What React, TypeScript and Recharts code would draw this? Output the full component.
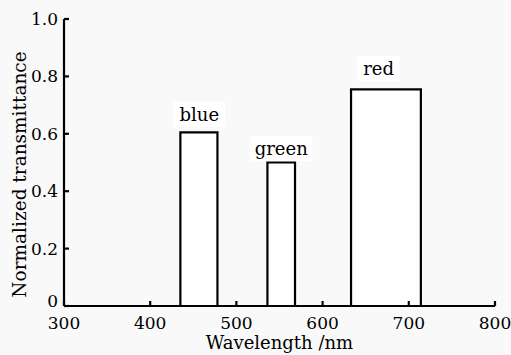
import { ComposedChart, XAxis, YAxis, ReferenceArea, Scatter } from "recharts";

// transmission bands of the filters (nm)
const bandNames = ["blue", "green", "red"];
const bandStart = [435, 536, 633];
const bandEnd = [478, 568, 714];
const bandValue = [0.605, 0.5, 0.755];

// where the band names sit (wavelength, text baseline in transmittance units)
const labelX = [457, 552, 665];
const labelY = [0.645, 0.526, 0.805];

const xTicks = [300, 400, 500, 600, 700, 800];
const yTicks = [0, 0.2, 0.4, 0.6, 0.8, 1.0];

const FONT = "'DejaVu Serif', serif";

const labelData = bandNames.map((name, i) => ({ x: labelX[i], y: labelY[i], name }));

function BandLabel(props: any) {
  const { cx, cy, payload } = props;
  const w = payload.name.length * 10 + 12;
  return (
    <g>
      <rect x={cx - w / 2} y={cy - 19} width={w} height={25} fill="#ffffff" />
      <text x={cx} y={cy} textAnchor="middle" fontSize={18} fontFamily={FONT} fill="#000">
        {payload.name}
      </text>
    </g>
  );
}

// y tick text; the "0" is lifted a little so it sits above the "300"
function YTick(props: any) {
  const { x, y, payload } = props;
  const v = payload.value;
  const lift = v === 0 ? 5 : 0;
  return (
    <text x={x} y={y - lift} textAnchor="end" dominantBaseline="central" fontSize={17} fontFamily={FONT} fill="#000">
      {v === 0 ? "0" : v.toFixed(1)}
    </text>
  );
}

export default function App() {
  return (
    <div style={{ position: "absolute", left: 0, top: 0, width: 511, height: 355, background: "#f9f9f9", fontFamily: FONT }}>
      <ComposedChart width={511} height={355} data={labelData} margin={{ top: 19, right: 16, bottom: 0, left: 0 }}>
        <XAxis
          dataKey="x"
          type="number"
          domain={[300, 800]}
          ticks={xTicks}
          allowDataOverflow
          height={49}
          tickSize={-5}
          tickMargin={16}
          axisLine={{ stroke: "#000", strokeWidth: 2.2 }}
          tickLine={{ stroke: "#000", strokeWidth: 2.2 }}
          tick={{ fontSize: 17, fill: "#000", fontFamily: FONT }}
          label={{
            content: (p: any) => {
              const vb = p.viewBox;
              return (
                <text x={vb.x + vb.width / 2} y={vb.y + 43} textAnchor="middle" fontSize={18} fontFamily={FONT} fill="#000">
                  Wavelength /nm
                </text>
              );
            },
          }}
        />
        <YAxis
          dataKey="y"
          type="number"
          domain={[0, 1]}
          ticks={yTicks}
          allowDataOverflow
          width={64}
          tickSize={-5}
          tickMargin={11}
          axisLine={{ stroke: "#000", strokeWidth: 2.2 }}
          tickLine={{ stroke: "#000", strokeWidth: 2.2 }}
          tick={<YTick />}
          label={{
            content: (p: any) => {
              const vb = p.viewBox;
              const x = vb.x + 19;
              const y = vb.y + vb.height / 2 + 12;
              return (
                <text x={x} y={y} transform={`rotate(-90 ${x} ${y})`} textAnchor="middle" dominantBaseline="central" fontSize={18.5} fontFamily={FONT} fill="#000">
                  Normalized transmittance
                </text>
              );
            },
          }}
        />
        {bandNames.map((name, i) => (
          <ReferenceArea
            key={name}
            x1={bandStart[i]}
            x2={bandEnd[i]}
            y1={0}
            y2={bandValue[i]}
            fill="#ffffff"
            fillOpacity={1}
            stroke="#000"
            strokeWidth={2.2}
          />
        ))}
        <Scatter data={labelData} dataKey="y" shape={<BandLabel />} isAnimationActive={false} />
      </ComposedChart>
    </div>
  );
}
